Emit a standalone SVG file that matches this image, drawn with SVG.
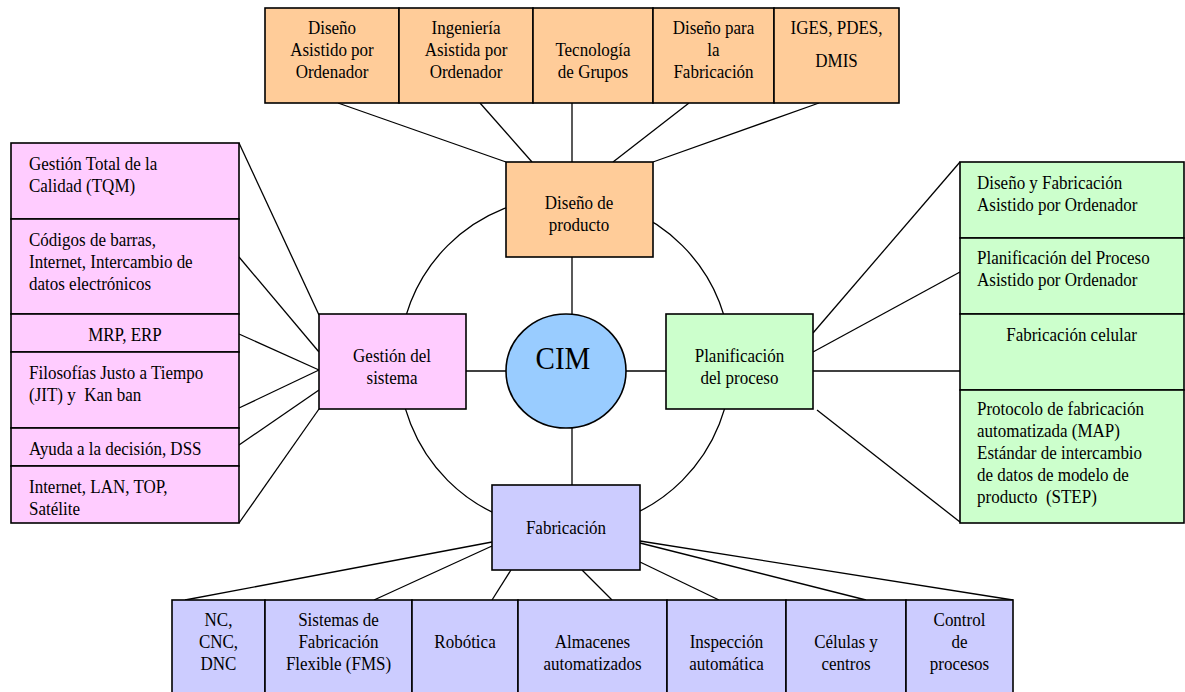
<svg xmlns="http://www.w3.org/2000/svg" width="1185" height="692" viewBox="0 0 1185 692">
  <style>
    .box { stroke: #000; stroke-width: 1.6; }
    .orange { fill: #FFCC99; }
    .pink { fill: #FFCCFF; }
    .green { fill: #CCFFCC; }
    .lav { fill: #CCCCFF; }
    .cim { fill: #99CCFF; stroke: #000; stroke-width: 1.6; }
    .ln { stroke: #000; stroke-width: 1.3; fill: none; }
    .t { font-family: "Liberation Serif", "Times New Roman", serif; font-size: 17px; fill: #000; }
    .c { text-anchor: middle; }
    .big { font-size: 29px; }
  </style>
  <rect width="1185" height="692" fill="#fff"/>

  <!-- ring joining the four main areas, and connectors -->
  <g id="connectors">
    <circle class="ln" cx="565" cy="363" r="166"/>
    <!-- product design -->
    <line class="ln" x1="338" y1="103" x2="506" y2="162"/>
    <line class="ln" x1="480" y1="103" x2="532" y2="162"/>
    <line class="ln" x1="572" y1="103" x2="572" y2="162"/>
    <line class="ln" x1="689" y1="103" x2="613" y2="162"/>
    <line class="ln" x1="819" y1="103" x2="653" y2="162"/>
    <!-- CIM spokes -->
    <line class="ln" x1="572" y1="257" x2="572" y2="314"/>
    <line class="ln" x1="572" y1="427" x2="572" y2="485"/>
    <line class="ln" x1="466" y1="371" x2="506" y2="371"/>
    <line class="ln" x1="626" y1="371" x2="666" y2="371"/>
    <!-- system management -->
    <line class="ln" x1="239" y1="143" x2="319" y2="315"/>
    <line class="ln" x1="239" y1="257" x2="319" y2="352"/>
    <line class="ln" x1="239" y1="334" x2="319" y2="370"/>
    <line class="ln" x1="239" y1="408" x2="319" y2="370"/>
    <line class="ln" x1="239" y1="445" x2="319" y2="390"/>
    <line class="ln" x1="239" y1="523" x2="319" y2="409"/>
    <!-- process planning -->
    <line class="ln" x1="813" y1="333" x2="960" y2="162"/>
    <line class="ln" x1="813" y1="352" x2="960" y2="272"/>
    <line class="ln" x1="813" y1="371" x2="960" y2="371"/>
    <line class="ln" x1="817" y1="410" x2="960" y2="522"/>
    <!-- manufacturing -->
    <line class="ln" x1="492" y1="542" x2="185" y2="600"/>
    <line class="ln" x1="492" y1="546" x2="374" y2="600"/>
    <line class="ln" x1="511" y1="570" x2="492" y2="600"/>
    <line class="ln" x1="582" y1="570" x2="612" y2="600"/>
    <line class="ln" x1="640" y1="562" x2="719" y2="600"/>
    <line class="ln" x1="640" y1="543" x2="866" y2="600"/>
    <line class="ln" x1="640" y1="541" x2="1013" y2="600"/>
  </g>

  <!-- product design tools -->
  <g id="cad">
    <rect class="box orange" x="265" y="8" width="134" height="95"/>
    <text class="t c" transform="translate(332,34) scale(1,1.13)"><tspan x="0" y="0">Diseño</tspan><tspan x="0" y="19.5">Asistido por</tspan><tspan x="0" y="39">Ordenador</tspan></text>
  </g>
  <g id="cae">
    <rect class="box orange" x="399" y="8" width="134" height="95"/>
    <text class="t c" transform="translate(466,34) scale(1,1.13)"><tspan x="0" y="0">Ingeniería</tspan><tspan x="0" y="19.5">Asistida por</tspan><tspan x="0" y="39">Ordenador</tspan></text>
  </g>
  <g id="gt">
    <rect class="box orange" x="533" y="8" width="120" height="95"/>
    <text class="t c" transform="translate(593,56) scale(1,1.13)"><tspan x="0" y="0">Tecnología</tspan><tspan x="0" y="19.5">de Grupos</tspan></text>
  </g>
  <g id="dfm">
    <rect class="box orange" x="653" y="8" width="121" height="95"/>
    <text class="t c" transform="translate(713.5,34) scale(1,1.13)"><tspan x="0" y="0">Diseño para</tspan><tspan x="0" y="19.5">la</tspan><tspan x="0" y="39">Fabricación</tspan></text>
  </g>
  <g id="iges">
    <rect class="box orange" x="774" y="8" width="125" height="95"/>
    <text class="t c" transform="translate(836.5,34) scale(1,1.13)"><tspan x="0" y="0">IGES, PDES,</tspan><tspan x="0" y="29.2">DMIS</tspan></text>
  </g>
  <g id="diseno-producto">
    <rect class="box orange" x="506" y="162" width="147" height="95"/>
    <text class="t c" transform="translate(579,209) scale(1,1.13)"><tspan x="0" y="0">Diseño de</tspan><tspan x="0" y="19.5">producto</tspan></text>
  </g>

  <!-- core -->
  <g id="cim">
    <ellipse class="cim" cx="566" cy="371" rx="60" ry="57"/>
    <text class="t c big" transform="translate(563,369) scale(1,1.1)">CIM</text>
  </g>

  <!-- system management -->
  <g id="gestion-sistema">
    <rect class="box pink" x="319" y="314" width="147" height="95"/>
    <text class="t c" transform="translate(392,362) scale(1,1.13)"><tspan x="0" y="0">Gestión del</tspan><tspan x="0" y="19.5">sistema</tspan></text>
  </g>
  <g id="tqm">
    <rect class="box pink" x="11" y="143" width="228" height="76"/>
    <text class="t" transform="translate(29,170) scale(1,1.13)"><tspan x="0" y="0">Gestión Total de la</tspan><tspan x="0" y="19.5">Calidad (TQM)</tspan></text>
  </g>
  <g id="edi">
    <rect class="box pink" x="11" y="219" width="228" height="95"/>
    <text class="t" transform="translate(29,246) scale(1,1.13)"><tspan x="0" y="0">Códigos de barras,</tspan><tspan x="0" y="19.5">Internet, Intercambio de</tspan><tspan x="0" y="39">datos electrónicos</tspan></text>
  </g>
  <g id="mrp">
    <rect class="box pink" x="11" y="314" width="228" height="38"/>
    <text class="t c" transform="translate(125,341) scale(1,1.13)">MRP, ERP</text>
  </g>
  <g id="jit">
    <rect class="box pink" x="11" y="352" width="228" height="76"/>
    <text class="t" transform="translate(29,379) scale(1,1.13)"><tspan x="0" y="0">Filosofías Justo a Tiempo</tspan><tspan x="0" y="19.5" xml:space="preserve">(JIT) y  Kan ban</tspan></text>
  </g>
  <g id="dss">
    <rect class="box pink" x="11" y="428" width="228" height="38"/>
    <text class="t" transform="translate(29,455) scale(1,1.13)">Ayuda a la decisión, DSS</text>
  </g>
  <g id="redes">
    <rect class="box pink" x="11" y="466" width="228" height="57"/>
    <text class="t" transform="translate(29,493) scale(1,1.13)"><tspan x="0" y="0">Internet, LAN, TOP,</tspan><tspan x="0" y="19.5">Satélite</tspan></text>
  </g>

  <!-- process planning -->
  <g id="planificacion">
    <rect class="box green" x="666" y="314" width="147" height="95"/>
    <text class="t c" transform="translate(739.5,362) scale(1,1.13)"><tspan x="0" y="0">Planificación</tspan><tspan x="0" y="19.5">del proceso</tspan></text>
  </g>
  <g id="cad-cam">
    <rect class="box green" x="960" y="162" width="224" height="76"/>
    <text class="t" transform="translate(977,189) scale(1,1.13)"><tspan x="0" y="0">Diseño y Fabricación</tspan><tspan x="0" y="19.5">Asistido por Ordenador</tspan></text>
  </g>
  <g id="capp">
    <rect class="box green" x="960" y="238" width="224" height="76"/>
    <text class="t" transform="translate(977,264) scale(1,1.13)"><tspan x="0" y="0">Planificación del Proceso</tspan><tspan x="0" y="19.5">Asistido por Ordenador</tspan></text>
  </g>
  <g id="celular">
    <rect class="box green" x="960" y="314" width="224" height="76"/>
    <text class="t c" transform="translate(1071.5,341) scale(1,1.13)">Fabricación celular</text>
  </g>
  <g id="map-step">
    <rect class="box green" x="960" y="390" width="224" height="133"/>
    <text class="t" transform="translate(977,415) scale(1,1.13)"><tspan x="0" y="0">Protocolo de fabricación</tspan><tspan x="0" y="19.5">automatizada (MAP)</tspan><tspan x="0" y="39">Estándar de intercambio</tspan><tspan x="0" y="58.5">de datos de modelo de</tspan><tspan x="0" y="78" xml:space="preserve">producto  (STEP)</tspan></text>
  </g>

  <!-- manufacturing -->
  <g id="fabricacion">
    <rect class="box lav" x="492" y="485" width="148" height="85"/>
    <text class="t c" transform="translate(566,534) scale(1,1.13)">Fabricación</text>
  </g>
  <g id="nc">
    <rect class="box lav" x="172" y="600" width="93" height="100"/>
    <text class="t c" transform="translate(218.5,626) scale(1,1.13)"><tspan x="0" y="0">NC,</tspan><tspan x="0" y="19.5">CNC,</tspan><tspan x="0" y="39">DNC</tspan></text>
  </g>
  <g id="fms">
    <rect class="box lav" x="265" y="600" width="147" height="100"/>
    <text class="t c" transform="translate(338.5,626) scale(1,1.13)"><tspan x="0" y="0">Sistemas de</tspan><tspan x="0" y="19.5">Fabricación</tspan><tspan x="0" y="39">Flexible (FMS)</tspan></text>
  </g>
  <g id="robotica">
    <rect class="box lav" x="412" y="600" width="106" height="100"/>
    <text class="t c" transform="translate(465,648) scale(1,1.13)">Robótica</text>
  </g>
  <g id="almacenes">
    <rect class="box lav" x="518" y="600" width="149" height="100"/>
    <text class="t c" transform="translate(592.5,648) scale(1,1.13)"><tspan x="0" y="0">Almacenes</tspan><tspan x="0" y="19.5">automatizados</tspan></text>
  </g>
  <g id="inspeccion">
    <rect class="box lav" x="667" y="600" width="119" height="100"/>
    <text class="t c" transform="translate(726.5,648) scale(1,1.13)"><tspan x="0" y="0">Inspección</tspan><tspan x="0" y="19.5">automática</tspan></text>
  </g>
  <g id="celulas">
    <rect class="box lav" x="786" y="600" width="120" height="100"/>
    <text class="t c" transform="translate(846,648) scale(1,1.13)"><tspan x="0" y="0">Células y</tspan><tspan x="0" y="19.5">centros</tspan></text>
  </g>
  <g id="control">
    <rect class="box lav" x="906" y="600" width="107" height="100"/>
    <text class="t c" transform="translate(959.5,626) scale(1,1.13)"><tspan x="0" y="0">Control</tspan><tspan x="0" y="19.5">de</tspan><tspan x="0" y="39">procesos</tspan></text>
  </g>
</svg>
